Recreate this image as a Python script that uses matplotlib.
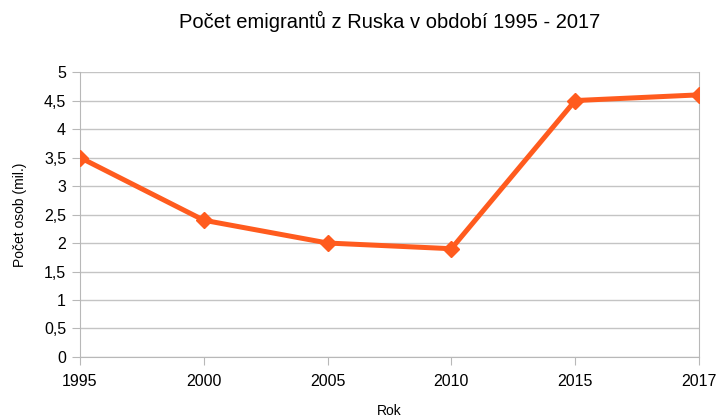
import matplotlib.pyplot as plt

# data
roky = ['1995', '2000', '2005', '2010', '2015', '2017']
emigranti = [3.5, 2.4, 2.0, 1.9, 4.5, 4.6]
y_ticks = [0, 0.5, 1, 1.5, 2, 2.5, 3, 3.5, 4, 4.5, 5]

plt.rcParams['font.family'] = ['Liberation Sans', 'DejaVu Sans']

fig = plt.figure(figsize=(7.18, 4.19), dpi=100)
ax = fig.add_axes([0.1114, 0.148, 0.8621, 0.680])

x = range(len(roky))
ax.plot(x, emigranti, color='#ff5b1e', lw=3.6, marker='D', markersize=8,
        solid_joinstyle='round', zorder=3)

ax.set_xlim(0, len(roky) - 1)
ax.set_ylim(0, 5)
ax.set_xticks(list(x))
ax.set_xticklabels(roky)
ax.set_yticks(y_ticks)
ax.set_yticklabels([('%g' % v).replace('.', ',') for v in y_ticks])

ax.grid(axis='y', color='#c4c4c4', lw=1)
ax.set_axisbelow(True)
for side in ['left', 'right', 'bottom']:
    ax.spines[side].set_color('#b8b8b8')
ax.spines['top'].set_visible(False)
ax.tick_params(axis='both', color='#b8b8b8', length=6, labelsize=11.5, pad=4)
ax.tick_params(axis='x', pad=6)

ax.set_title('Počet emigrantů z Ruska v období 1995 - 2017', fontsize=14.5, pad=32)
ax.set_xlabel('Rok', fontsize=10, labelpad=11)
ax.set_ylabel('Počet osob (mil.)', fontsize=10, labelpad=12)

fig.savefig('out.png', dpi=100)
